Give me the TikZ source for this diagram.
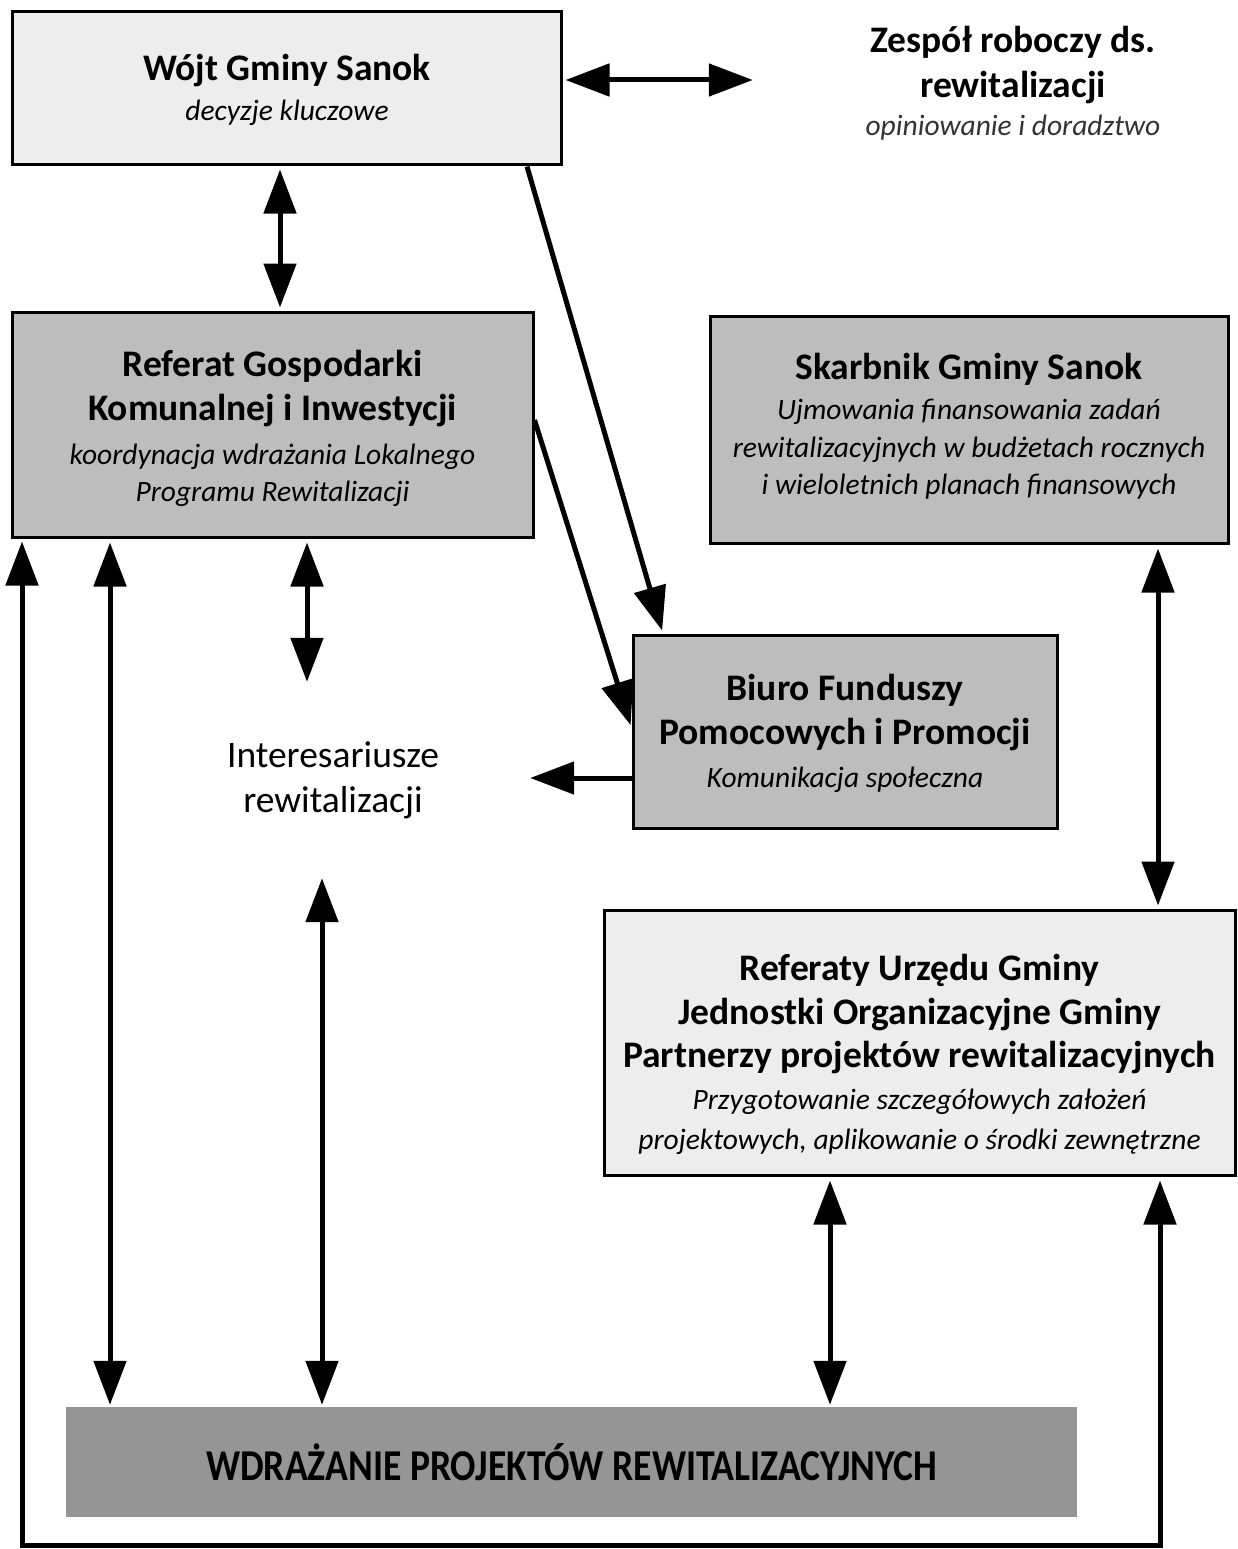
\documentclass[tikz,border=0pt]{standalone}
\usepackage{fontspec}
\setmainfont{Carlito}
\usetikzlibrary{arrows.meta}
\definecolor{lightbox}{HTML}{EDEDED}
\definecolor{midbox}{HTML}{BDBDBD}
\definecolor{darkbox}{HTML}{959595}
\newcommand{\ttlf}{\fontsize{37.5}{44}\selectfont\bfseries\upshape}
\newcommand{\subf}{\fontsize{29.5}{38}\selectfont\mdseries\itshape}
\begin{document}
\begin{tikzpicture}[x=1pt,y=-1pt,
  box/.style={draw=black,line width=3pt,inner sep=0pt},
  plain/.style={align=center,inner sep=0pt,font=\ttlf},
  con/.style={line width=5pt,-{Triangle[length=44pt,width=32pt]}},
  dbl/.style={line width=5pt,{Triangle[length=44pt,width=32pt]}-{Triangle[length=44pt,width=32pt]}},
  ]
\useasboundingbox (0,0) rectangle (1237,1549);
% boxes
\node[box,fill=lightbox,minimum width=549pt,minimum height=153pt] (wojt) at (286.5,88.5) {};
\node[plain] (wojtT) at (287,90) {Wójt Gminy Sanok\\[-4pt]\subf decyzje kluczowe};
\node[plain,minimum width=520pt,minimum height=130pt] (zespol) at (1013,83)
  {Zespół roboczy ds.\\[1pt]rewitalizacji\\[-6pt]\subf\color{black!80}opiniowanie i doradztwo};
\node[box,fill=midbox,minimum width=521pt,minimum height=225pt] (referat) at (272.5,424.5) {};
\node[plain] (referatT) at (272.5,428)
  {Referat Gospodarki\\Komunalnej i Inwestycji\\\subf koordynacja wdrażania Lokalnego\\[-7pt]\subf Programu Rewitalizacji};
\node[box,fill=midbox,minimum width=518pt,minimum height=227pt] (skarbnik) at (969,429.5) {};
\node[plain] (skarbnikT) at (969,426)
  {Skarbnik Gminy Sanok\\[-4pt]\subf Ujmowania finansowania zadań\\[-6pt]\subf rewitalizacyjnych w budżetach rocznych\\[-7pt]\subf i wieloletnich planach finansowych};
\node[box,fill=midbox,minimum width=424pt,minimum height=193pt] (biuro) at (845,731.5) {};
\node[plain] (biuroT) at (845,733)
  {Biuro Funduszy\\Pomocowych i Promocji\\[-1pt]\subf Komunikacja społeczna};
\node[plain,minimum width=394pt,minimum height=196pt,font=\fontsize{37.5}{45}\selectfont] (inter) at (333,780)
  {Interesariusze\\rewitalizacji};
\node[box,fill=lightbox,minimum width=631pt,minimum height=265pt] (referaty) at (919.5,1042.5) {};
\node[plain] (referatyT) at (919.5,1054)
  {Referaty Urzędu Gminy\\Jednostki Organizacyjne Gminy\\[-1pt]Partnerzy projektów rewitalizacyjnych\\[-2pt]\subf Przygotowanie szczegółowych założeń\\[-4pt]\subf projektowych, aplikowanie o środki zewnętrzne};
\node[fill=darkbox,inner sep=0pt,minimum width=1011pt,minimum height=110pt] (wdr) at (571.5,1462)
  {\scalebox{0.855}[1]{\fontsize{44}{50}\selectfont\bfseries WDRAŻANIE PROJEKTÓW REWITALIZACYJNYCH}};
% connectors
\draw[dbl,shorten <=3pt] (wojt.east |- 0,80) -- (zespol.west |- 0,80);
\draw[dbl,shorten <=3pt,shorten >=3pt] (wojt.south -| 280,0) -- (referat.north -| 280,0);
\draw[con,shorten >=3pt] (wojt.south -| 527,0) -- (biuro.north -| 663,0);
\draw[con,shorten >=3pt] (referat.east |- 0,420) -- (biuro.west |- 0,728);
\draw[dbl,shorten <=4pt] (referat.south -| 307,0) -- (inter.north -| 307,0);
\draw[con] (biuro.west |- 0,778) -- (inter.east |- 0,778);
\draw[dbl,shorten >=2pt] (inter.south -| 322,0) -- (wdr.north -| 322,0);
\draw[dbl,shorten <=4pt,shorten >=2pt] (referat.south -| 110,0) -- (wdr.north -| 110,0);
\draw[dbl,shorten <=4pt,shorten >=3pt] (skarbnik.south -| 1158,0) -- (referaty.north -| 1158,0);
\draw[dbl,shorten <=4pt,shorten >=2pt] (referaty.south -| 830,0) -- (wdr.north -| 830,0);
\coordinate (lowR) at (1160,1545);
\draw[dbl,shorten <=3pt,shorten >=4pt] (referat.south -| 22,0) |- (lowR) -- (referaty.south -| lowR);
\end{tikzpicture}
\end{document}
